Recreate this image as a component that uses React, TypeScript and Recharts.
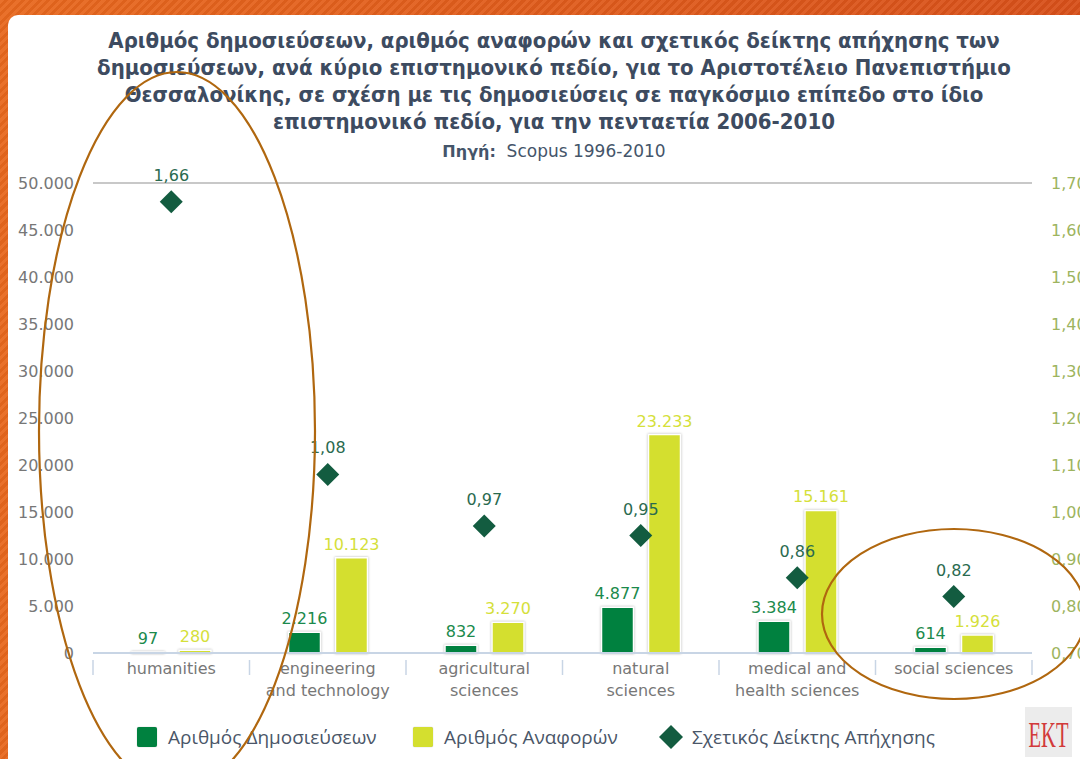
import React from "react";
import {
  ComposedChart,
  Bar,
  Line,
  XAxis,
  YAxis,
  CartesianGrid,
  LabelList,
} from "recharts";

// data (Scopus 1996-2010, ΑΠΘ 2006-2010)
const categories = [
  "humanities",
  "engineering\nand technology",
  "agricultural\nsciences",
  "natural\nsciences",
  "medical and\nhealth sciences",
  "social sciences",
];
const publications = [97, 2216, 832, 4877, 3384, 614];
const citations = [280, 10123, 3270, 23233, 15161, 1926];
const impactIndex = [1.66, 1.08, 0.97, 0.95, 0.86, 0.82];

const leftTicks = [0, 5000, 10000, 15000, 20000, 25000, 30000, 35000, 40000, 45000, 50000];
const rightTicks = [0.7, 0.8, 0.9, 1.0, 1.1, 1.2, 1.3, 1.4, 1.5, 1.6, 1.7];

const titleLines = [
  "Αριθμός δημοσιεύσεων, αριθμός αναφορών και σχετικός δείκτης απήχησης των",
  "δημοσιεύσεων, ανά κύριο επιστημονικό πεδίο, για το Αριστοτέλειο Πανεπιστήμιο",
  "Θεσσαλονίκης, σε σχέση με τις δημοσιεύσεις σε παγκόσμιο επίπεδο στο ίδιο",
  "επιστημονικό πεδίο, για την πενταετία 2006-2010",
];

const legendItems = [
  { label: "Αριθμός Δημοσιεύσεων", color: "#00813f", shape: "square", left: 137 },
  { label: "Αριθμός Αναφορών", color: "#d4df2f", shape: "square", left: 413 },
  { label: "Σχετικός Δείκτης Απήχησης", color: "#135c40", shape: "diamond", left: 658 },
];

const data = categories.map((c, i) => ({
  name: c,
  pubs: publications[i],
  cites: citations[i],
  index: impactIndex[i],
}));

const W = 1080;
const H = 759;
const LEFT_W = 93;
const RIGHT_W = 48;
const BAND = (W - LEFT_W - RIGHT_W) / categories.length;

const fmtInt = (v: any) => String(v).replace(/\B(?=(\d{3})+(?!\d))/g, ".");
const fmtDec = (v: any) => Number(v).toFixed(2).replace(".", ",");

const CategoryTick = (props: any) => {
  const { x, y, payload, index } = props;
  const lines = String(payload.value).split("\n");
  const isLast = index === categories.length - 1;
  return (
    <g>
      <line x1={x - BAND / 2} x2={x - BAND / 2} y1={y - 1} y2={y + 14} stroke="#c8d5e5" strokeWidth={1.5} />
      {isLast && (
        <line x1={x + BAND / 2} x2={x + BAND / 2} y1={y - 1} y2={y + 14} stroke="#c8d5e5" strokeWidth={1.5} />
      )}
      {lines.map((l, i) => (
        <text key={i} x={x} y={y + 13 + i * 22} textAnchor="middle" fill="#777" fontSize={16}>
          {l}
        </text>
      ))}
    </g>
  );
};

const Diamond = (props: any) => {
  const { cx, cy } = props;
  if (cx == null || cy == null) return null;
  const r = 11.5;
  return (
    <polygon
      points={`${cx},${cy - r} ${cx + r},${cy} ${cx},${cy + r} ${cx - r},${cy}`}
      fill="#135c40"
    />
  );
};

function Frame({ children }: { children: React.ReactNode }) {
  return (
    <div
      style={{
        position: "absolute",
        left: 0,
        top: 0,
        width: W,
        height: H,
        overflow: "hidden",
        background:
          "repeating-linear-gradient(135deg, rgba(255,255,255,0.06) 0 3px, rgba(0,0,0,0.04) 3px 6px), linear-gradient(90deg, #e8681e, #d8501a)",
      }}
    >
      <div
        style={{
          position: "absolute",
          left: 8,
          top: 15,
          width: W - 8,
          height: H - 15,
          background: "#fff",
          borderTopLeftRadius: 10,
        }}
      />
      {children}
    </div>
  );
}

export default function App() {
  return (
    <Frame>
      <div
        style={{
          position: "absolute",
          left: 0,
          top: 27,
          width: 1108,
          textAlign: "center",
          fontFamily: "'DejaVu Sans Condensed', 'DejaVu Sans', sans-serif",
          fontWeight: "bold",
          fontSize: 22,
          lineHeight: "27px",
          color: "#3d4b60",
        }}
      >
        {titleLines.map((t, i) => (
          <div key={i}>{t}</div>
        ))}
        <div
          style={{
            fontFamily: "'DejaVu Sans', sans-serif",
            fontSize: 16,
            lineHeight: "24px",
            marginTop: 4,
            color: "#45556a",
          }}
        >
          <span style={{ fontWeight: "bold" }}>Πηγή:</span>
          <span style={{ fontWeight: "normal", fontSize: 17 }}>&nbsp; Scopus 1996-2010</span>
        </div>
      </div>

      <div style={{ position: "absolute", left: 0, top: 0, fontFamily: "'DejaVu Sans', sans-serif" }}>
        <ComposedChart
          width={W}
          height={H}
          data={data}
          margin={{ top: 183, right: 0, bottom: 46, left: 0 }}
          barSize={32}
          barGap={15}
        >
          <CartesianGrid vertical={false} stroke="#c8c8c8" strokeWidth={1.8} />
          <XAxis
            dataKey="name"
            height={60}
            interval={0}
            tickLine={false}
            axisLine={{ stroke: "#c8d5e5", strokeWidth: 2 }}
            tick={<CategoryTick />}
          />
          <YAxis
            yAxisId="left"
            width={LEFT_W}
            domain={[0, 50000]}
            ticks={leftTicks}
            tickFormatter={fmtInt}
            axisLine={false}
            tickLine={false}
            tickMargin={13}
            tick={{ fill: "#777", fontSize: 16 }}
          />
          <YAxis
            yAxisId="right"
            orientation="right"
            width={RIGHT_W}
            domain={[0.7, 1.7]}
            ticks={rightTicks}
            tickFormatter={(v: number) => v.toFixed(2).replace(".", ",")}
            axisLine={false}
            tickLine={false}
            tickMargin={13}
            tick={{ fill: "#9db45e", fontSize: 16, textAnchor: "start" }}
          />
          <Bar
            yAxisId="left"
            dataKey="pubs"
            fill="#00813f"
            stroke="#ffffff"
            strokeWidth={1.5}
            style={{ filter: "drop-shadow(0 0 1px rgba(0,0,0,0.3))" }}
            isAnimationActive={false}
          >
            <LabelList dataKey="pubs" position="top" offset={8} fill="#1b8a4c" fontSize={16} formatter={fmtInt} />
          </Bar>
          <Bar
            yAxisId="left"
            dataKey="cites"
            fill="#d4df2f"
            stroke="#ffffff"
            strokeWidth={1.5}
            style={{ filter: "drop-shadow(0 0 1px rgba(0,0,0,0.3))" }}
            isAnimationActive={false}
          >
            <LabelList dataKey="cites" position="top" offset={8} fill="#d5e03a" fontSize={16} formatter={fmtInt} />
          </Bar>
          <Line
            yAxisId="right"
            dataKey="index"
            stroke="none"
            dot={<Diamond />}
            activeDot={false}
            isAnimationActive={false}
          >
            <LabelList dataKey="index" position="top" offset={21} fill="#2a6a4f" fontSize={16} formatter={fmtDec} />
          </Line>
        </ComposedChart>
      </div>

      {/* legend */}
      {legendItems.map((it, i) => (
        <div
          key={i}
          style={{
            position: "absolute",
            left: it.left,
            top: 723,
            height: 28,
            display: "flex",
            alignItems: "center",
            fontFamily: "'Open Sans', sans-serif",
            fontSize: 19,
            color: "#4a5668",
            whiteSpace: "nowrap",
          }}
        >
          {it.shape === "square" ? (
            <div
              style={{
                width: 20,
                height: 20,
                background: it.color,
                borderRadius: 2,
                boxShadow: "0 0 1px rgba(0,0,0,0.4)",
                marginRight: 11,
              }}
            />
          ) : (
            <svg width={26} height={26} style={{ marginRight: 8 }}>
              <polygon points="13,1 25,13 13,25 1,13" fill={it.color} />
            </svg>
          )}
          <span>{it.label}</span>
        </div>
      ))}

      {/* EKT logo */}
      <div
        style={{
          position: "absolute",
          left: 1025,
          top: 707,
          width: 47,
          height: 50,
          background: "#ececec",
          overflow: "hidden",
        }}
      >
        <svg width={47} height={50}>
          <text
            x={23.5}
            y={40}
            textAnchor="middle"
            fontFamily="'Liberation Serif', serif"
            fontSize={36}
            fill="#d23a3a"
            textLength={40}
            lengthAdjust="spacingAndGlyphs"
          >
            EKT
          </text>
        </svg>
      </div>

      {/* hand-drawn annotation ellipses */}
      <svg
        width={W}
        height={H}
        style={{ position: "absolute", left: 0, top: 0, pointerEvents: "none" }}
      >
        <ellipse cx={177} cy={431} rx={138} ry={359} fill="none" stroke="#b0670f" strokeWidth={2.2} />
        <ellipse cx={954} cy={614} rx={132} ry={85} fill="none" stroke="#b0670f" strokeWidth={2.2} />
      </svg>
    </Frame>
  );
}
